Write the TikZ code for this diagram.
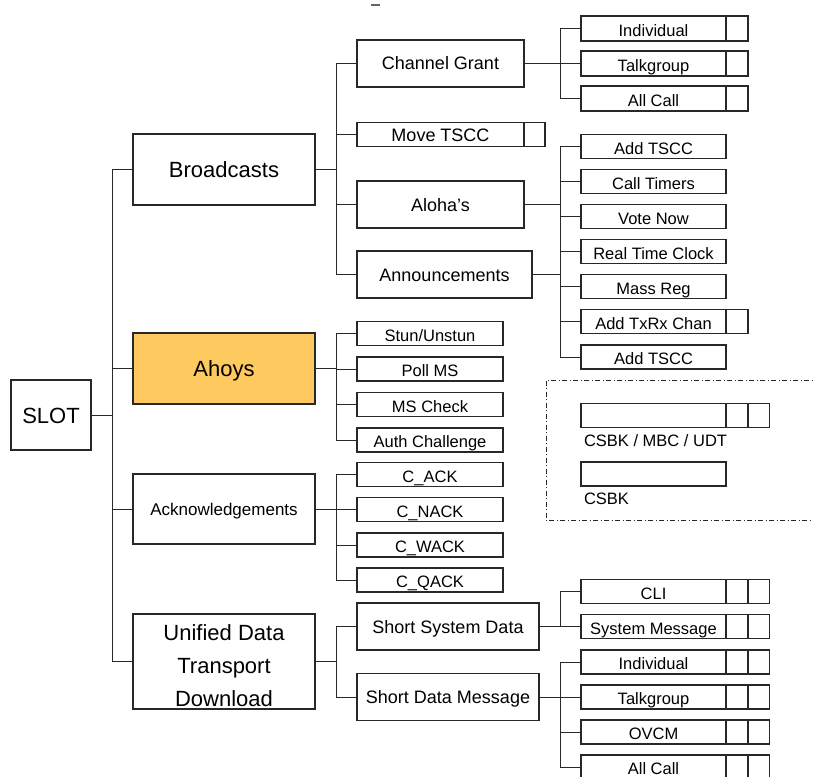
\documentclass[tikz,border=0pt]{standalone}
\usepackage{fontspec}
\setmainfont{Liberation Sans}
\definecolor{ahoyfill}{RGB}{254,202,96}
\definecolor{linec}{RGB}{40,40,40}
\newcommand\szbig{\fontsize{22}{33}\selectfont}
\newcommand\szack{\fontsize{17}{20}\selectfont}
\newcommand\szmid{\fontsize{18}{21}\selectfont}
\newcommand\szleaf{\fontsize{16.5}{19}\selectfont}
\begin{document}
\begin{tikzpicture}[x=1pt,y=-1pt,
  every node/.style={inner sep=0pt,outer sep=0pt},
  boxline/.style={draw=linec,line width=1.2pt},
  topbox/.style={boxline,minimum width=182pt,font=\szbig,align=center},
  capc/.style={text height=16.4pt,text depth=0pt},
  midbox/.style={boxline,font=\szmid,text height=13pt,text depth=0pt},
  leafbox/.style={boxline,font=\szleaf,minimum height=24pt,text height=15.2pt,text depth=0pt},
  rleaf/.style={leafbox,minimum width=145pt},
  lleaf/.style={leafbox,minimum width=146pt},
  cellbox/.style={boxline,minimum width=22pt,minimum height=24pt,anchor=west},
  conn/.style={draw=linec,line width=1pt},
  legendlabel/.style={font=\szleaf,anchor=west}]
\useasboundingbox (0,0) rectangle (813,776);

% top mark
\draw[line width=2pt,black!60] (371,5) -- (380,5);

% level 0 and 1
\node[topbox,capc,minimum width=80pt,minimum height=70pt] (slot) at (51,415) {SLOT};
\node[topbox,capc,minimum height=71pt] (bc) at (224,169.5) {Broadcasts};
\node[topbox,capc,minimum height=71pt,fill=ahoyfill] (ah) at (224,368.5) {Ahoys};
\node[topbox,minimum height=70pt,font=\szack,text height=12.6pt,text depth=0pt] (ack) at (224,509) {Acknowledgements};
\node[topbox,minimum height=95pt,text height=89pt,text depth=0pt] (udt) at (224,661.5) {Unified Data\\Transport\\Download};

% level 2
\node[midbox,minimum width=167pt,minimum height=47pt] (cg) at (440.5,63.5) {Channel Grant};
\node[midbox,minimum width=167pt,minimum height=24pt] (mv) at (440.5,134.5) {Move TSCC};
\node[cellbox,minimum width=21pt] (mvc) at (mv.east) {};
\node[midbox,minimum width=167pt,minimum height=47pt] (alo) at (440.5,204.5) {Aloha's};
\node[midbox,minimum width=175pt,minimum height=47pt] (ann) at (444.5,274.5) {Announcements};
\node[midbox,minimum width=182pt,minimum height=47pt] (ssd) at (448,626.5) {Short System Data};
\node[midbox,minimum width=182pt,minimum height=47pt] (sdm) at (448,697) {Short Data Message};

% Ahoys leaves
\node[lleaf] (p1) at (430,333.5) {Stun/Unstun};
\node[lleaf] (p2) at (430,369) {Poll MS};
\node[lleaf] (p3) at (430,404.5) {MS Check};
\node[lleaf] (p4) at (430,440) {Auth Challenge};

% Acknowledgement leaves
\node[lleaf] (k1) at (430,474.5) {C\_ACK};
\node[lleaf] (k2) at (430,509.5) {C\_NACK};
\node[lleaf] (k3) at (430,545) {C\_WACK};
\node[lleaf] (k4) at (430,580) {C\_QACK};

% Channel Grant leaves
\node[rleaf,minimum height=25pt] (g1) at (653.5,28.5) {Individual};
\node[cellbox,minimum height=25pt] (g1c) at (g1.east) {};
\node[rleaf,minimum height=25pt] (g2) at (653.5,63.5) {Talkgroup};
\node[cellbox,minimum height=25pt] (g2c) at (g2.east) {};
\node[rleaf,minimum height=25pt] (g3) at (653.5,98.5) {All Call};
\node[cellbox,minimum height=25pt] (g3c) at (g3.east) {};

% Aloha / Announcement leaves
\node[rleaf] (a1) at (653.5,146.5) {Add TSCC};
\node[rleaf] (a2) at (653.5,181.5) {Call Timers};
\node[rleaf] (a3) at (653.5,216.5) {Vote Now};
\node[rleaf] (a4) at (653.5,251.5) {Real Time Clock};
\node[rleaf] (a5) at (653.5,286.5) {Mass Reg};
\node[rleaf] (a6) at (653.5,321.5) {Add TxRx Chan};
\node[cellbox] (a6c) at (a6.east) {};
\node[rleaf] (a7) at (653.5,357) {Add TSCC};

% Short System Data leaves
\node[rleaf] (s1) at (653.5,591.5) {CLI};
\node[cellbox] (s1c) at (s1.east) {};
\node[cellbox,minimum width=21.5pt] (s1d) at (s1c.east) {};
\node[rleaf] (s2) at (653.5,626.5) {System Message};
\node[cellbox] (s2c) at (s2.east) {};
\node[cellbox,minimum width=21.5pt] (s2d) at (s2c.east) {};

% Short Data Message leaves
\node[rleaf] (d1) at (653.5,662) {Individual};
\node[cellbox] (d1c) at (d1.east) {};
\node[cellbox,minimum width=21.5pt] (d1d) at (d1c.east) {};
\node[rleaf] (d2) at (653.5,697) {Talkgroup};
\node[cellbox] (d2c) at (d2.east) {};
\node[cellbox,minimum width=21.5pt] (d2d) at (d2c.east) {};
\node[rleaf] (d3) at (653.5,732) {OVCM};
\node[cellbox] (d3c) at (d3.east) {};
\node[cellbox,minimum width=21.5pt] (d3d) at (d3c.east) {};
\node[rleaf] (d4) at (653.5,767) {All Call};
\node[cellbox] (d4c) at (d4.east) {};
\node[cellbox,minimum width=21.5pt] (d4d) at (d4c.east) {};

% legend
\draw[draw=linec,line width=0.9pt,dash pattern=on 5pt off 2.5pt on 1pt off 2.5pt] (546,380.5) rectangle (840,520.5);
\node[rleaf,minimum height=24.5pt] (l1) at (653.5,415.5) {};
\node[cellbox,minimum height=24.5pt] (l1c) at (l1.east) {};
\node[cellbox,minimum height=24.5pt,minimum width=21.5pt] (l1d) at (l1c.east) {};
\node[legendlabel] (l1t) at (584,441) {CSBK / MBC / UDT};
\node[rleaf] (l2) at (653.5,474) {};
\node[legendlabel] (l2t) at (584,499) {CSBK};

% connectors
\coordinate (j1) at (112,0);
\coordinate (j2) at (336,0);
\coordinate (j3) at (560,0);
\foreach \c in {bc,ah,ack,udt} \draw[conn] (slot.east) -- (slot.east -| j1) |- (\c.west);
\foreach \c in {cg,mv,alo,ann} \draw[conn] (bc.east) -- (bc.east -| j2) |- (\c.west);
\foreach \c in {p1,p2,p3,p4} \draw[conn] (ah.east) -- (ah.east -| j2) |- (\c.west);
\foreach \c in {k1,k2,k3,k4} \draw[conn] (ack.east) -- (ack.east -| j2) |- (\c.west);
\foreach \c in {ssd,sdm} \draw[conn] (udt.east) -- (udt.east -| j2) |- (\c.west);
\foreach \c in {g1,g2,g3} \draw[conn] (cg.east) -- (cg.east -| j3) |- (\c.west);
\foreach \c in {a1,a2,a3,a4,a5,a6,a7} \draw[conn] (alo.east) -- (alo.east -| j3) |- (\c.west);
\draw[conn] (ann.east) -- (ann.east -| j3);
\foreach \c in {s1,s2} \draw[conn] (ssd.east) -- (ssd.east -| j3) |- (\c.west);
\foreach \c in {d1,d2,d3,d4} \draw[conn] (sdm.east) -- (sdm.east -| j3) |- (\c.west);
\end{tikzpicture}
\end{document}
